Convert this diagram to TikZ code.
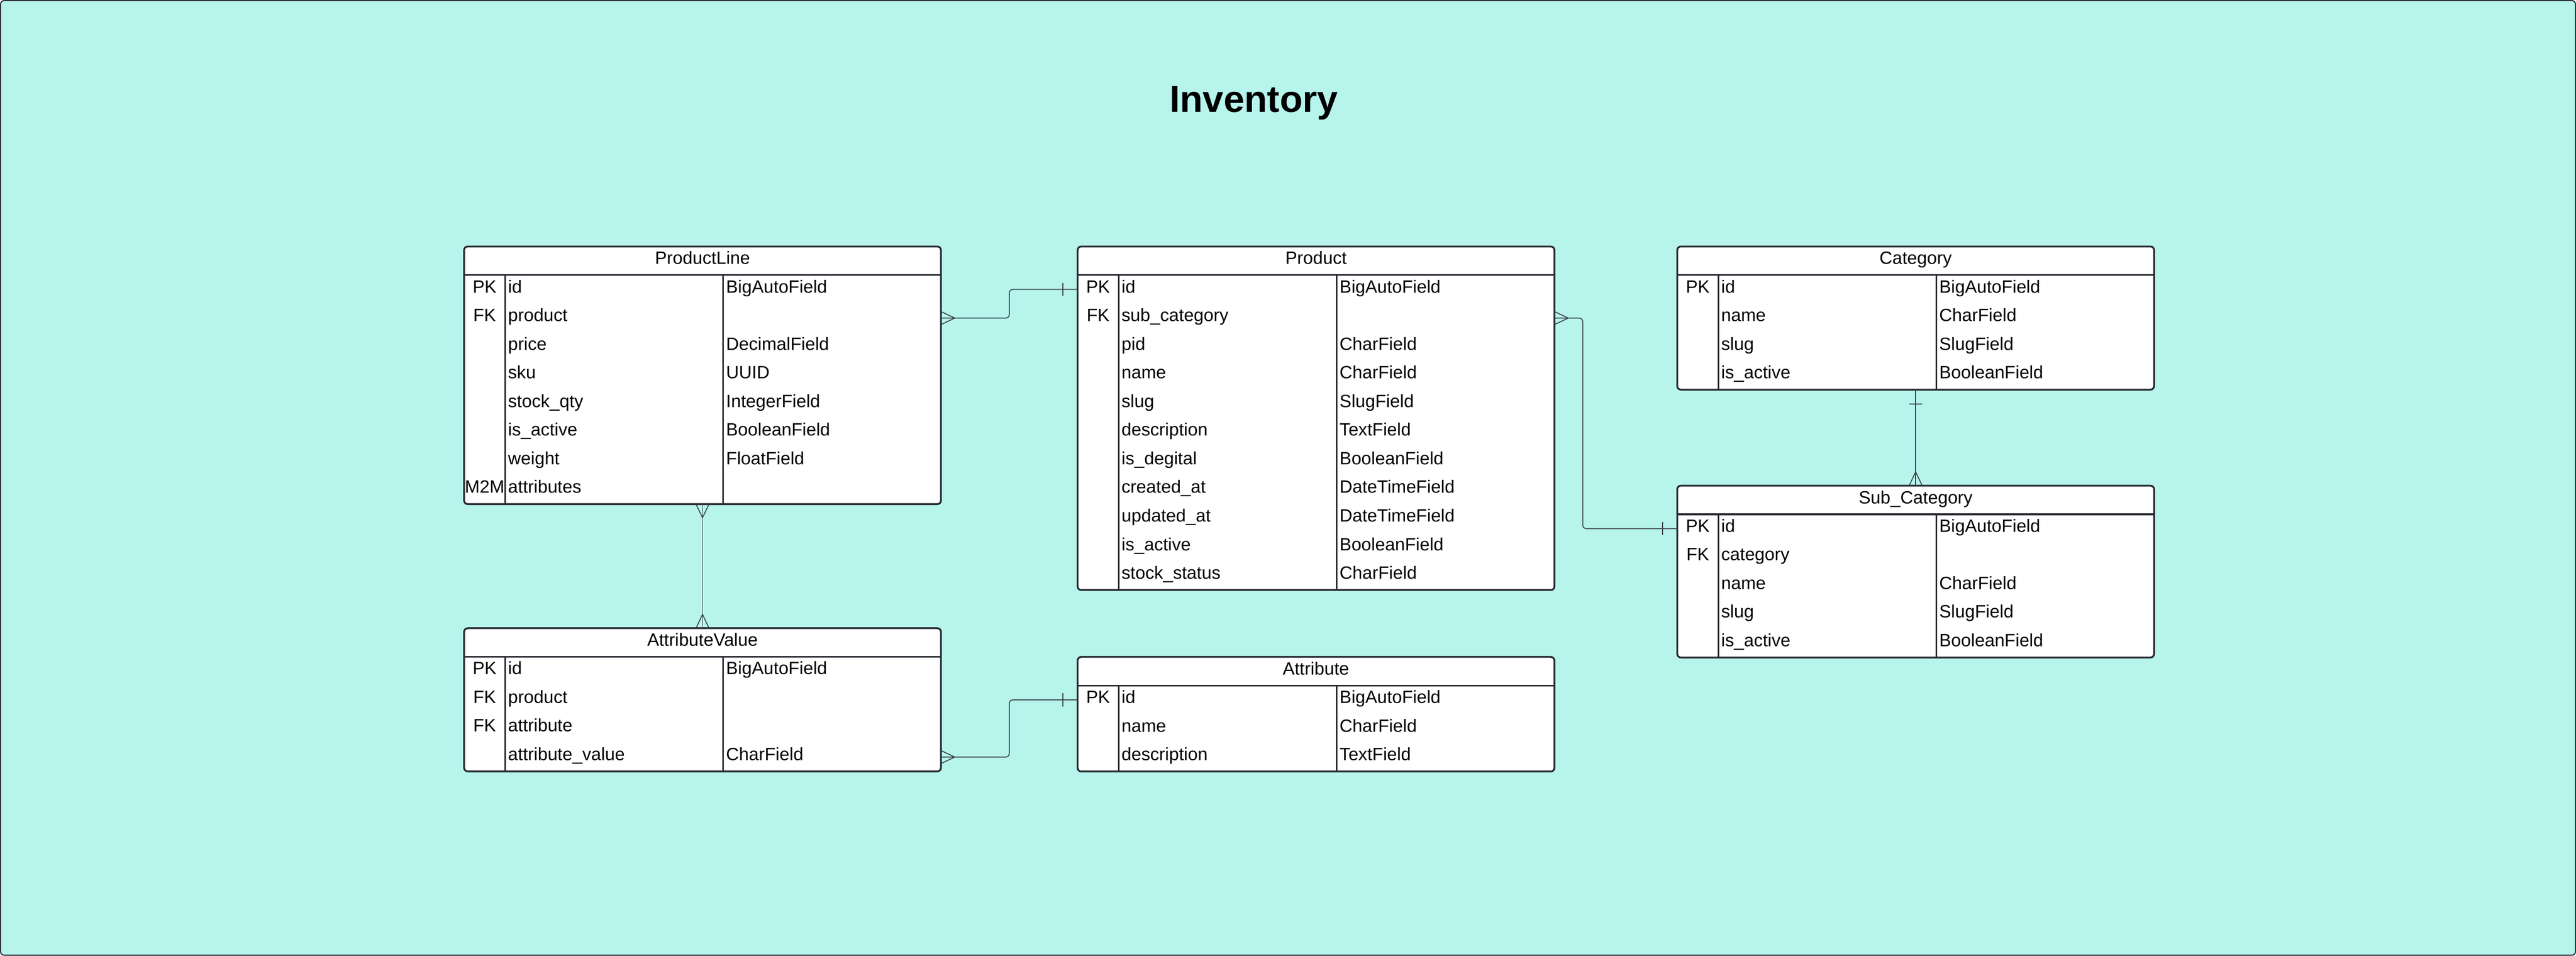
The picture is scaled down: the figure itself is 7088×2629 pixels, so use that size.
\documentclass[tikz,border=0pt]{standalone}
\usepackage{fontspec}
\setmainfont{Liberation Sans}
\usetikzlibrary{calc}
\definecolor{bgc}{HTML}{B6F4EC}
\definecolor{bdr}{HTML}{282C32}
\definecolor{connc}{HTML}{3B4249}
\tikzset{
  tframe/.style={draw=bdr, fill=white, line width=1pt, rounded corners=2pt, inner sep=0, outer sep=0},
  tline/.style={draw=bdr, line width=0.9pt},
  rowbox/.style={inner sep=0, outer sep=0, minimum width=262.4pt, minimum height=15.75pt},
  ttext/.style={anchor=base west, inner sep=0, font=\fontsize{9.8}{11}\selectfont},
  tkey/.style={anchor=base, inner sep=0, font=\fontsize{9.8}{11}\selectfont},
  ttitle/.style={anchor=base, inner sep=0, font=\fontsize{9.8}{11}\selectfont},
  conn/.style={draw=connc, line width=0.5pt},
  bigtitle/.style={anchor=base, inner sep=0, font=\fontsize{20.6}{24}\selectfont\bfseries},
}
\newcommand{\erdtable}[6]{%
  \pgfmathsetmacro{\tabh}{78.75*(#4+1)}
  \node[tframe, minimum width=262.4pt, minimum height=\tabh*0.2pt] (#1) at (#2+656, #3+\tabh/2) {};
  \node[ttitle] (#1-title) at (#2+656, #3+49) {#5};
  \draw[tline] (#2, #3+78.75) -- (#2+1312, #3+78.75);
  \draw[tline] (#2+113, #3+78.75) -- (#2+113, #3+\tabh);
  \draw[tline] (#2+713, #3+78.75) -- (#2+713, #3+\tabh);
  \foreach \ka/\na/\ty [count=\ri] in {#6} {
    \node[rowbox] (#1-r\ri) at (#2+656, #3+78.75*\ri+39.375) {};
    \node[tkey] (#1-k\ri) at (#2+56.5, #3+78.75*\ri+48.5) {\ka};
    \node[ttext] (#1-n\ri) at (#2+120, #3+78.75*\ri+48.5) {\na};
    \node[ttext] (#1-t\ri) at (#2+720, #3+78.75*\ri+48.5) {\ty};
  }
}
\begin{document}
\begin{tikzpicture}[x=0.2pt, y=-0.2pt]
\useasboundingbox (0,0) rectangle (7088,2629);
\draw[fill=bgc, draw=bdr, line width=0.6pt, rounded corners=2pt] (1.5,1.5) rectangle (7086.5,2627.5);
\node[bigtitle] (title) at (3450,308) {Inventory};

\erdtable{pl}{1277}{678}{8}{ProductLine}{PK/id/BigAutoField, FK/product/{}, {}/price/DecimalField, {}/sku/UUID, {}/stock\_qty/IntegerField, {}/is\_active/BooleanField, {}/weight/FloatField, M2M/attributes/{}}
\erdtable{pr}{2965}{678}{11}{Product}{PK/id/BigAutoField, FK/sub\_category/{}, {}/pid/CharField, {}/name/CharField, {}/slug/SlugField, {}/description/TextField, {}/is\_degital/BooleanField, {}/created\_at/DateTimeField, {}/updated\_at/DateTimeField, {}/is\_active/BooleanField, {}/stock\_status/CharField}
\erdtable{cat}{4615}{678}{4}{Category}{PK/id/BigAutoField, {}/name/CharField, {}/slug/SlugField, {}/is\_active/BooleanField}
\erdtable{sub}{4615}{1336}{5}{Sub\_Category}{PK/id/BigAutoField, FK/category/{}, {}/name/CharField, {}/slug/SlugField, {}/is\_active/BooleanField}
\erdtable{av}{1277}{1728}{4}{AttributeValue}{PK/id/BigAutoField, FK/product/{}, FK/attribute/{}, {}/attribute\_value/CharField}
\erdtable{attr}{2965}{1807}{3}{Attribute}{PK/id/BigAutoField, {}/name/CharField, {}/description/TextField}

\coordinate (v1) at (2777,0);
\coordinate (v2) at (4355,0);

% ProductLine -> Product
\draw[conn, rounded corners=2pt] (pl-r2.east) -- (pl-r2.east -| v1) |- (pr-r1.west);
\draw[conn] ($(pl-r2.east)+(0,-18)$) -- ($(pl-r2.east)+(38,0)$) -- ($(pl-r2.east)+(0,18)$);
\draw[conn] ($(pr-r1.west)+(-41,-18)$) -- ($(pr-r1.west)+(-41,18)$);

% Product -> Sub_Category
\draw[conn, rounded corners=2pt] (pr-r2.east) -- (pr-r2.east -| v2) |- (sub-r1.west);
\draw[conn] ($(pr-r2.east)+(0,-18)$) -- ($(pr-r2.east)+(38,0)$) -- ($(pr-r2.east)+(0,18)$);
\draw[conn] ($(sub-r1.west)+(-41,-18)$) -- ($(sub-r1.west)+(-41,18)$);

% Category -> Sub_Category
\draw[conn] (cat.south) -- (sub.north);
\draw[conn] ($(cat.south)+(-18,40)$) -- ($(cat.south)+(18,40)$);
\draw[conn] ($(sub.north)+(-18,0)$) -- ($(sub.north)+(0,-38)$) -- ($(sub.north)+(18,0)$);

% ProductLine -> AttributeValue
\draw[conn] (pl.south) -- (av.north);
\draw[conn] ($(pl.south)+(-18,0)$) -- ($(pl.south)+(0,37)$) -- ($(pl.south)+(18,0)$);
\draw[conn] ($(av.north)+(-18,0)$) -- ($(av.north)+(0,-38)$) -- ($(av.north)+(18,0)$);

% AttributeValue -> Attribute
\draw[conn, rounded corners=2pt] (av-r4.east) -- (av-r4.east -| v1) |- (attr-r1.west);
\draw[conn] ($(av-r4.east)+(0,-18)$) -- ($(av-r4.east)+(38,0)$) -- ($(av-r4.east)+(0,18)$);
\draw[conn] ($(attr-r1.west)+(-41,-18)$) -- ($(attr-r1.west)+(-41,18)$);
\end{tikzpicture}
\end{document}
